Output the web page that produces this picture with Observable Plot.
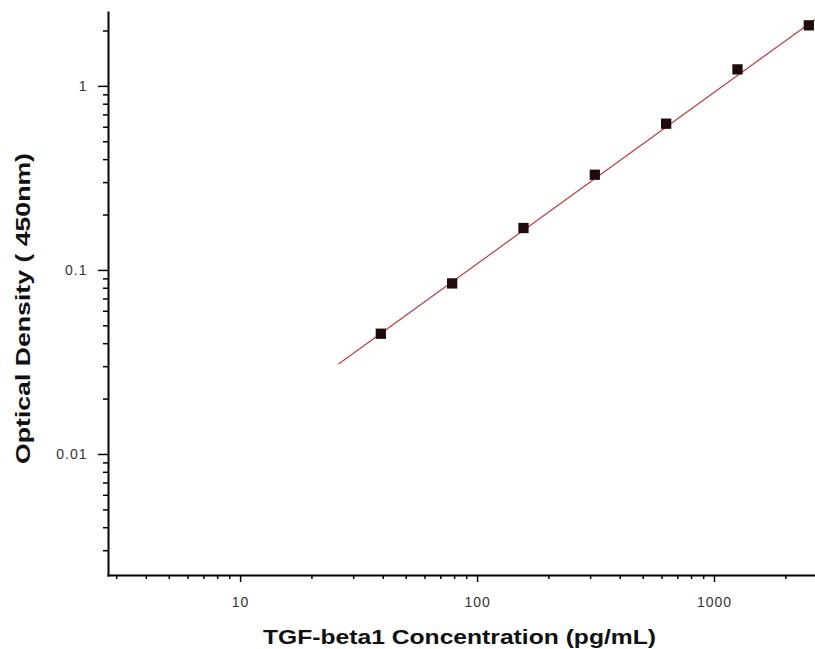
<!DOCTYPE html>
<html>
<head>
<meta charset="utf-8">
<script src="https://cdn.jsdelivr.net/npm/d3@7"></script>
<script src="https://cdn.jsdelivr.net/npm/@observablehq/plot@0.6"></script>
<style>
  html, body { margin: 0; padding: 0; background: #fff; }
  #chart svg { display: block; font-family: "Liberation Sans", Arial, sans-serif; }
  g[aria-label="y-axis tick label"] text, g[aria-label="x-axis tick label"] text { fill: #333; letter-spacing: 1px; font-size: 14px; }
</style>
</head>
<body>
<div id="chart"></div>
<script>
// Standard curve data
const concentrations = [39.06, 78.13, 156.25, 312.5, 625, 1250, 2500];
const odValues = [0.0453, 0.085, 0.170, 0.331, 0.627, 1.237, 2.146];
// Fitted line end points (straight on log-log axes)
const fitX = [26, 2668];
const fitY = [0.0311, 2.32];
// Axis domains and ticks
const xDomain = [2.77, 2668];
const yDomain = [0.0022, 2.52];
const xMajorTicks = [10, 100, 1000];
const xMinorTicks = [3, 4, 5, 6, 7, 8, 9, 20, 30, 40, 50, 60, 70, 80, 90, 200, 300, 400, 500, 600, 700, 800, 900, 2000];
const yMajorTicks = [0.01, 0.1, 1];
const yMinorTicks = [0.003, 0.004, 0.005, 0.006, 0.007, 0.008, 0.009, 0.02, 0.03, 0.04, 0.05, 0.06, 0.07, 0.08, 0.09, 0.2, 0.3, 0.4, 0.5, 0.6, 0.7, 0.8, 0.9, 2];
const xTitle = "TGF-beta1 Concentration (pg/mL)";
const yTitle = "Optical Density ( 450nm)";

const points = concentrations.map((c, i) => ({conc: c, od: odValues[i]}));
const fit = fitX.map((x, i) => ({x, y: fitY[i]}));

const svg = Plot.plot({
  width: 815,
  height: 649,
  marginLeft: 108,
  marginRight: 0,
  marginTop: 12,
  marginBottom: 74,
  style: {fontFamily: "Liberation Sans, Arial, sans-serif", background: "#fff"},
  x: {type: "log", domain: xDomain},
  y: {type: "log", domain: yDomain},
  marks: [
    Plot.axisX(xMinorTicks, {tickSize: 4, tickFormat: () => "", label: null, strokeWidth: 1.5}),
    Plot.axisX(xMajorTicks, {tickSize: 7, tickPadding: 15, tickFormat: d => String(d), label: null, fontSize: 14, strokeWidth: 1.5}),
    Plot.axisY(yMinorTicks, {tickSize: 5, tickFormat: () => "", label: null, strokeWidth: 1.5}),
    Plot.axisY(yMajorTicks, {tickSize: 10, tickPadding: 11, tickFormat: d => String(d), label: null, fontSize: 14, strokeWidth: 1.5}),
    Plot.frame({anchor: "left", stroke: "#000", strokeWidth: 2}),
    Plot.frame({anchor: "bottom", stroke: "#000", strokeWidth: 2}),
    Plot.line(fit, {x: "x", y: "y", stroke: "#c8383a", strokeWidth: 1.2}),
    Plot.dot(points, {x: "conc", y: "od", symbol: "square", r: 5.8, fill: "#1e0c0c", stroke: "none"}),
    Plot.text([xTitle], {text: d => d, frameAnchor: "bottom", textAnchor: "start", dy: 68, dx: -199, fontSize: 20, fontWeight: "bold", fill: "#111"}),
    Plot.text([yTitle], {text: d => d, frameAnchor: "left", textAnchor: "start", rotate: -90, dx: -85, dy: 170, fontSize: 21, fontWeight: "bold", fill: "#111"})
  ]
});

d3.select(svg).selectAll("text").filter(function() { return this.textContent === xTitle; })
  .attr("textLength", 393).attr("lengthAdjust", "spacingAndGlyphs");
d3.select(svg).selectAll("text").filter(function() { return this.textContent === yTitle; })
  .attr("textLength", 311).attr("lengthAdjust", "spacingAndGlyphs");

document.getElementById("chart").appendChild(svg);
</script>
</body>
</html>
